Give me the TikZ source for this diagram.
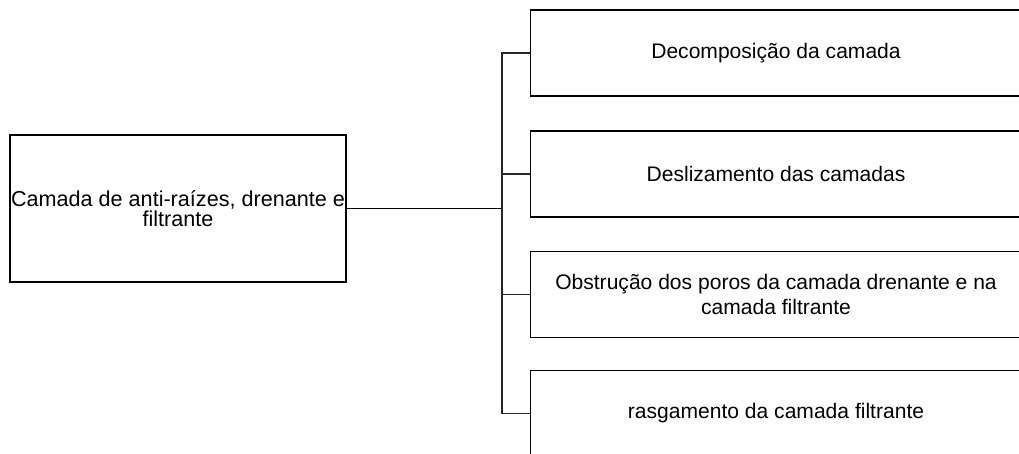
\documentclass[tikz,border=0pt]{standalone}
\usepackage{fontspec}
\setmainfont{Liberation Sans}
\begin{document}
\begin{tikzpicture}[x=0.75pt,y=-0.75pt,
  box/.style={draw=black,line width=1pt,fill=white,inner sep=0pt,align=center},
  leftbox/.style={box,minimum width=252pt,minimum height=110.25pt,
    font=\fontsize{16.2pt}{14.6pt}\selectfont},
  rightbox/.style={box,minimum width=368pt,minimum height=64.5pt,
    font=\fontsize{15.8pt}{18.8pt}\selectfont},
  link/.style={draw=black!85,line width=0.8pt}]
\useasboundingbox (0,0) rectangle (1019,453);

% source box
\node[leftbox] (src) at (178,208.5) {\raisebox{-2.5pt}{Camada de anti-raízes, drenante e}\\\raisebox{-2.5pt}{filtrante}};

% outcome boxes (running past the right and bottom edges)
\node[rightbox] (b1) at (776,53)    {Decomposição da camada};
\node[rightbox] (b2) at (776,174)   {Deslizamento das camadas};
\node[rightbox] (b3) at (776,294.5) {Obstrução dos poros da camada drenante e na\\camada filtrante};
\node[rightbox] (b4) at (776,413.5) {rasgamento da camada filtrante};

% tree connectors
\coordinate (trunk) at (502,208.5);
\draw[line width=1pt] (src.east) -- (trunk);
\draw[link] (trunk) |- (b1.west);
\draw[link] (trunk) |- (b2.west);
\draw[link] (trunk) |- (b3.west);
\draw[link] (trunk) |- (b4.west);
\end{tikzpicture}
\end{document}
